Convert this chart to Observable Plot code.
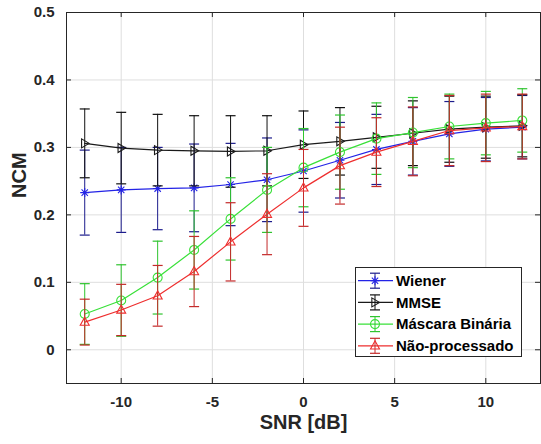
<!DOCTYPE html>
<html><head><meta charset="utf-8">
<script src="https://cdn.jsdelivr.net/npm/d3@7"></script>
<script src="https://cdn.jsdelivr.net/npm/@observablehq/plot@0.6"></script>
<style>
body{margin:0;background:#fff;}
#wrap{position:relative;width:541px;height:444px;}
#legend{position:absolute;left:355px;top:267px;}
</style></head><body><div id="wrap"></div>
<script>
const snr = [-12,-10,-8,-6,-4,-2,0,2,4,6,8,10,12];
const wiener     = [0.233,0.237,0.239,0.240,0.245,0.252,0.265,0.281,0.297,0.309,0.320,0.327,0.330];
const wienerErr  = [0.063,0.063,0.061,0.065,0.061,0.062,0.061,0.056,0.052,0.050,0.048,0.047,0.047];
const mmse       = [0.306,0.299,0.296,0.295,0.294,0.295,0.304,0.309,0.315,0.321,0.327,0.330,0.332];
const mmseErr    = [0.051,0.053,0.053,0.052,0.053,0.052,0.050,0.050,0.046,0.048,0.049,0.046,0.046];
const mascara    = [0.053,0.073,0.107,0.148,0.194,0.237,0.270,0.293,0.313,0.322,0.331,0.336,0.340];
const mascaraErr = [0.045,0.053,0.054,0.058,0.061,0.063,0.058,0.055,0.053,0.052,0.048,0.047,0.047];
const naoProc    = [0.041,0.059,0.080,0.116,0.160,0.201,0.240,0.273,0.293,0.309,0.325,0.329,0.331];
const naoProcErr = [0.034,0.038,0.045,0.052,0.058,0.060,0.057,0.057,0.051,0.051,0.052,0.050,0.048];
const seriesNames = ["Wiener","MMSE","Máscara Binária","Não-processado"];
const xTicks = [-10,-5,0,5,10];
const yTicks = [0,0.1,0.2,0.3,0.4,0.5];

// symbols
const star8 = {draw(c,s){const r=Math.sqrt(s/Math.PI),d=r*Math.SQRT1_2;
  c.moveTo(-r,0);c.lineTo(r,0);c.moveTo(0,-r);c.lineTo(0,r);
  c.moveTo(-d,-d);c.lineTo(d,d);c.moveTo(-d,d);c.lineTo(d,-d);}};
const triRight = {draw(c,s){const r=Math.sqrt(s/Math.PI);
  c.moveTo(r,0);c.lineTo(-r*0.7,-r);c.lineTo(-r*0.7,r);c.closePath();}};
const triUp = {draw(c,s){const r=Math.sqrt(s/Math.PI);
  c.moveTo(0,-r*1.1);c.lineTo(r,r*0.7);c.lineTo(-r,r*0.7);c.closePath();}};
const circ = {draw(c,s){const r=Math.sqrt(s/Math.PI);c.moveTo(r,0);c.arc(0,0,r,0,2*Math.PI);}};
const cap = {draw(c,s){const r=Math.sqrt(s/Math.PI);c.moveTo(-r,0);c.lineTo(r,0);}};

const series = [
  {name: seriesNames[0], y: wiener,  e: wienerErr,  line:"#2323e6", bar:"#1c1c8c", sym: star8,   r: 4.5},
  {name: seriesNames[1], y: mmse,    e: mmseErr,    line:"#1a1a1a", bar:"#111111", sym: triRight, r: 4.5},
  {name: seriesNames[2], y: mascara, e: mascaraErr, line:"#38e038", bar:"#2fc42f", sym: circ,    r: 4.5},
  {name: seriesNames[3], y: naoProc, e: naoProcErr, line:"#ee2e2e", bar:"#c42a2a", sym: triUp,   r: 4.5}
];

const W = 541, H = 444, mL = 66, mR = 1, mT = 12, mB = 61;
const pw = W - mL - mR, ph = H - mT - mB;

const marks = [
  Plot.ruleX(xTicks, {stroke:"#dedede"}),
  Plot.ruleY(yTicks, {stroke:"#dedede"}),
];
for (const s of series) {
  const rows = snr.map((x,i)=>({x, y:s.y[i], lo:s.y[i]-s.e[i], hi:s.y[i]+s.e[i]}));
  marks.push(
    Plot.ruleX(rows, {x:"x", y1:"lo", y2:"hi", stroke:s.bar, strokeWidth:1}),
    Plot.dot(rows, {x:"x", y:"lo", symbol:cap, r:5, stroke:s.bar, fill:"none", strokeWidth:1.2}),
    Plot.dot(rows, {x:"x", y:"hi", symbol:cap, r:5, stroke:s.bar, fill:"none", strokeWidth:1.2}),
    Plot.line(rows, {x:"x", y:"y", stroke:s.line, strokeWidth:1.2}),
    Plot.dot(rows, {x:"x", y:"y", symbol:s.sym, r:s.r, stroke:s.line, fill:"none", strokeWidth:1.1})
  );
}
marks.push(
  Plot.ruleX(xTicks, {stroke:"#262626", insetTop: ph-5}),
  Plot.ruleX(xTicks, {stroke:"#262626", insetBottom: ph-5}),
  Plot.ruleY(yTicks, {stroke:"#262626", insetRight: pw-5}),
  Plot.ruleY(yTicks, {stroke:"#262626", insetLeft: pw-5}),
  Plot.frame({stroke:"#262626"}),
  Plot.axisX(xTicks, {tickSize:0, tickPadding:13, tickFormat:d=>String(d), label:null, fill:"#262626"}),
  Plot.axisY(yTicks, {tickSize:0, tickPadding:12, tickFormat:d=>d===0?"0":d.toFixed(1), label:null, fill:"#262626"}),
  Plot.text(["SNR [dB]"], {frameAnchor:"bottom", text:d=>d, lineAnchor:"bottom", dy:45, fontSize:20, fontWeight:"bold", fill:"#262626"}),
  Plot.text(["NCM"], {frameAnchor:"left", text:d=>d, lineAnchor:"bottom", rotate:-90, dx:-41, fontSize:20, fontWeight:"bold", fill:"#262626"})
);

const chart = Plot.plot({
  width: W, height: H,
  marginLeft: mL, marginRight: mR, marginTop: mT, marginBottom: mB,
  x: {domain:[-13,13]},
  y: {domain:[-0.05,0.5]},
  style: {fontFamily:"'Liberation Sans', Arial, sans-serif", fontSize:"15px", fontWeight:"bold", background:"#fff", color:"#262626"},
  marks
});
const wrap = document.getElementById("wrap");
wrap.appendChild(chart);

// legend
const lw = 166, lh = 89;
const lg = d3.select(wrap).append("svg").attr("id","legend").attr("width",lw+1).attr("height",lh+1);
lg.append("rect").attr("x",0.5).attr("y",0.5).attr("width",lw).attr("height",lh).attr("fill","#fff").attr("stroke","#262626");
series.forEach((s,i)=>{
  const cy = 13.7 + i*21.7;
  const g = lg.append("g").attr("transform",`translate(0,${cy})`);
  g.append("line").attr("x1",3).attr("x2",38).attr("y1",0).attr("y2",0).attr("stroke",s.line).attr("stroke-width",1.2);
  g.append("line").attr("x1",20).attr("x2",20).attr("y1",-7.5).attr("y2",7.5).attr("stroke",s.bar);
  g.append("line").attr("x1",15).attr("x2",25).attr("y1",-7.5).attr("y2",-7.5).attr("stroke",s.bar).attr("stroke-width",1.2);
  g.append("line").attr("x1",15).attr("x2",25).attr("y1",7.5).attr("y2",7.5).attr("stroke",s.bar).attr("stroke-width",1.2);
  g.append("path").attr("transform","translate(20,0)").attr("d", d3.symbol(s.sym, Math.PI*s.r*s.r)()).attr("fill","none").attr("stroke",s.line).attr("stroke-width",1.1);
  g.append("text").attr("x",41).attr("y",0).attr("dy","0.35em").text(s.name)
    .attr("font-family","'Liberation Sans', Arial, sans-serif").attr("font-size","15px").attr("font-weight","bold").attr("fill","#000");
});
</script></body></html>
